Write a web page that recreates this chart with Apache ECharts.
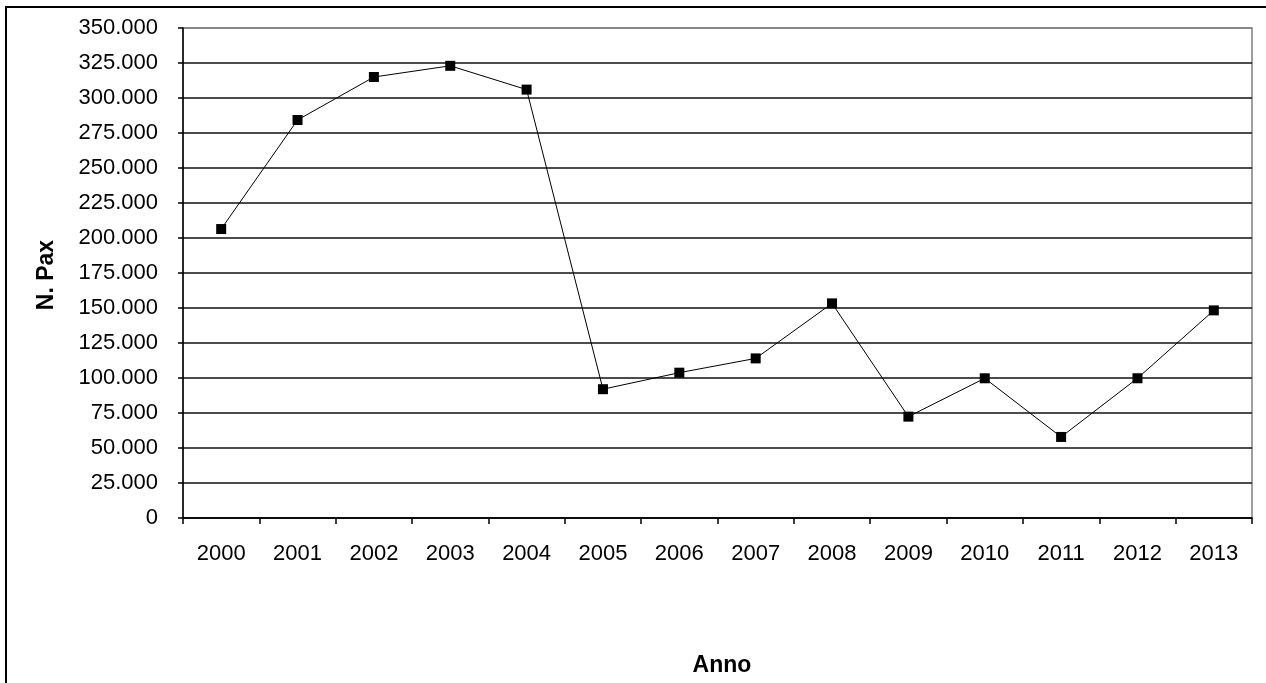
<!DOCTYPE html>
<html>
<head>
<meta charset="utf-8">
<script src="https://cdn.jsdelivr.net/npm/echarts@6/dist/echarts.min.js"></script>
<style>
html,body{margin:0;padding:0;background:#fff;}
#c{width:1266px;height:683px;}
</style>
</head>
<body>
<div id="c"></div>
<script>
const years = ['2000','2001','2002','2003','2004','2005','2006','2007','2008','2009','2010','2011','2012','2013'];
const pax = [206400, 284300, 315000, 323000, 306000, 92000, 103800, 114000, 153300, 72400, 99800, 57900, 99800, 148300];
const yMin = 0, yMax = 350000, yStep = 25000;
const yTitle = 'N. Pax';
const xTitle = 'Anno';

const gridColors = [];
for (let v = yMin; v <= yMax; v += yStep) gridColors.push(v === yMax ? '#808080' : '#111');

const chart = echarts.init(document.getElementById('c'), null, {renderer: 'canvas'});
chart.setOption({
  backgroundColor: '#fff',
  animation: false,
  textStyle: {fontFamily: 'Liberation Sans, Arial, sans-serif'},
  graphic: [{
    type: 'rect',
    shape: {x: 6, y: 7, width: 1400, height: 800},
    style: {fill: 'none', stroke: '#000', lineWidth: 2},
    silent: true
  }, {
    type: 'text',
    x: 47, y: 275,
    rotation: Math.PI / 2,
    style: {text: yTitle, x: 0, y: 0, font: 'bold 23px "Liberation Sans", Arial, sans-serif', fill: '#000', textAlign: 'center', textVerticalAlign: 'middle'},
    silent: true
  }, {
    type: 'text',
    style: {text: xTitle, x: 722, y: 666, font: 'bold 23px "Liberation Sans", Arial, sans-serif', fill: '#000', textAlign: 'center', textVerticalAlign: 'middle'},
    silent: true
  }],
  grid: {left: 183, top: 28, right: 14, bottom: 165, show: true, borderColor: '#808080', borderWidth: 1.5, backgroundColor: 'transparent'},
  xAxis: {
    type: 'category',
    data: years,
    boundaryGap: true,
    axisLine: {lineStyle: {color: '#000', width: 1.5}},
    axisTick: {show: true, interval: 0, length: 6, lineStyle: {color: '#000', width: 1.5}},
    axisLabel: {color: '#000', fontSize: 22, margin: 25, interval: 0, fontFamily: 'Liberation Sans, Arial, sans-serif'},
    splitLine: {show: false}
  },
  yAxis: {
    type: 'value',
    min: yMin, max: yMax, interval: yStep,
    axisLine: {show: true, lineStyle: {color: '#000', width: 1.5}},
    axisTick: {show: true, length: 5, lineStyle: {color: '#000', width: 1.5}},
    axisLabel: {color: '#000', fontSize: 22, margin: 25, fontFamily: 'Liberation Sans, Arial, sans-serif',
      formatter: v => v === 0 ? '0' : (v / 1000).toFixed(0) + '.000'},
    splitLine: {show: true, lineStyle: {color: gridColors, width: 1.5}}
  },
  series: [{
    type: 'line',
    data: pax,
    symbol: 'rect',
    symbolSize: 10,
    itemStyle: {color: '#000'},
    lineStyle: {color: '#000', width: 1},
    z: 5
  }]
});
</script>
</body>
</html>
